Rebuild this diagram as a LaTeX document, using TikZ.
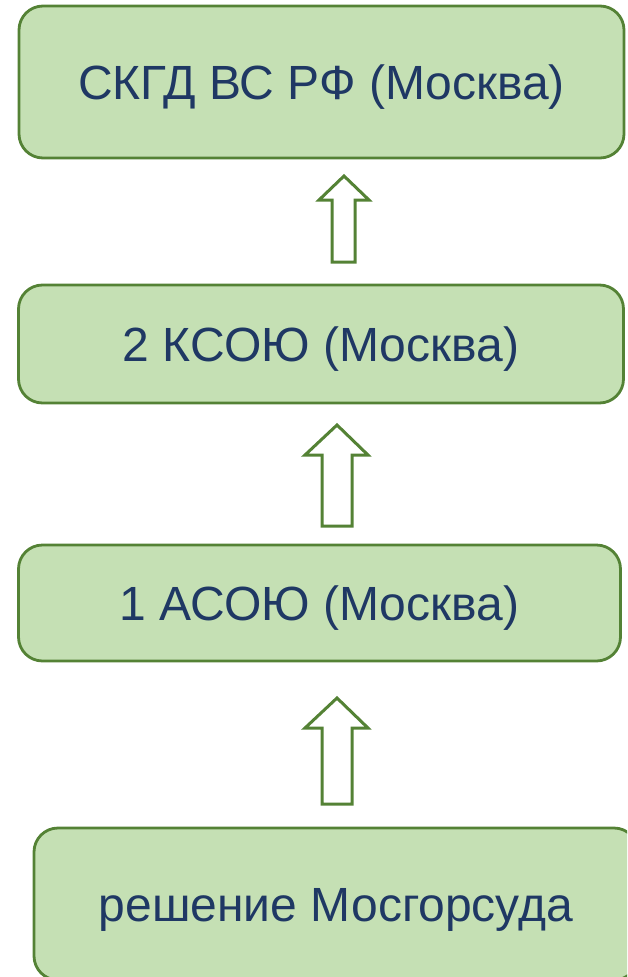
\documentclass[tikz,border=0pt]{standalone}
\usepackage{fontspec}
\setmainfont{Liberation Sans}
\definecolor{boxfill}{HTML}{C5E0B4}
\definecolor{boxline}{HTML}{548235}
\definecolor{txt}{HTML}{1F3864}
\begin{document}
\begin{tikzpicture}[x=1pt,y=-1pt,
  box/.style={draw=boxline,fill=boxfill,line width=2.8pt,rounded corners=24pt,inner sep=0pt,
    text=txt,font=\fontsize{48}{54}\selectfont,text height=35pt,text depth=0pt},
  blockarr/.style={draw=boxline,fill=white,line width=3pt,line join=miter}]
\useasboundingbox (0,0) rectangle (627,977);
\begin{scope}
\clip (0,0) rectangle (627,977);
\node[box,minimum width=605pt,minimum height=152pt] (b1) at (321.5,82) {СКГД ВС РФ (Москва)};
\node[box,minimum width=605pt,minimum height=118pt] (b2) at (321,344) {2 КСОЮ (Москва)};
\node[box,minimum width=602pt,minimum height=116pt] (b3) at (319.5,603) {1 АСОЮ (Москва)};
\node[box,minimum width=604pt,minimum height=152pt] (b4) at (336,904) {решение Мосгорсуда};
\end{scope}
% arrows
\draw[blockarr] (332,262) -- (332,200) -- (319,200) -- (344,176) -- (369,200) -- (355,200) -- (355,262) -- cycle;
\draw[blockarr] (322,526) -- (322,455) -- (305,455) -- (337,425) -- (368,455) -- (352,455) -- (352,526) -- cycle;
\draw[blockarr] (322,804) -- (322,728) -- (305,728) -- (337,698) -- (368,728) -- (352,728) -- (352,804) -- cycle;
\end{tikzpicture}
\end{document}
